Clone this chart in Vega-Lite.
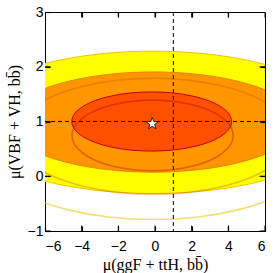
{
  "$schema": "https://vega.github.io/schema/vega-lite/v6.json",
  "width": 220,
  "height": 219,
  "autosize": {"type": "none"},
  "padding": {"left": 45, "top": 12, "right": 8, "bottom": 42},
  "config": {
    "view": {"stroke": "black", "strokeWidth": 1},
    "axis": {"labelFont": "Liberation Sans", "labelFontSize": 14, "labelColor": "black", "ticks": true, "tickColor": "black", "tickWidth": 1.2, "titleFont": "Liberation Serif", "titleFontSize": 16, "titleFontWeight": "normal", "titleColor": "black", "grid": false, "domain": false, "zindex": 1}
  },
  "datasets": {
    "ys": [
      {"i":0,"x":9.35,"y":0.59},{"i":1,"x":9.028,"y":0.947},{"i":2,"x":8.084,"y":1.28},{"i":3,"x":6.582,"y":1.566},{"i":4,"x":4.625,"y":1.785},{"i":5,"x":2.346,"y":1.923},{"i":6,"x":-0.1,"y":1.97},{"i":7,"x":-2.546,"y":1.923},{"i":8,"x":-4.825,"y":1.785},{"i":9,"x":-6.782,"y":1.566},{"i":10,"x":-8.284,"y":1.28},{"i":11,"x":-9.228,"y":0.947},{"i":12,"x":-9.55,"y":0.59},{"i":13,"x":-9.228,"y":0.233},{"i":14,"x":-8.284,"y":-0.1},{"i":15,"x":-6.782,"y":-0.386},{"i":16,"x":-4.825,"y":-0.605},{"i":17,"x":-2.546,"y":-0.743},{"i":18,"x":-0.1,"y":-0.79},{"i":19,"x":2.346,"y":-0.743},{"i":20,"x":4.625,"y":-0.605},{"i":21,"x":6.582,"y":-0.386},{"i":22,"x":8.084,"y":-0.1},{"i":23,"x":9.028,"y":0.233}
    ],
    "ym": [
      {"i":0,"x":10.4,"y":0.985},{"i":1,"x":10.042,"y":1.321},{"i":2,"x":8.993,"y":1.635},{"i":3,"x":7.325,"y":1.904},{"i":4,"x":5.15,"y":2.111},{"i":5,"x":2.617,"y":2.241},{"i":6,"x":-0.1,"y":2.285},{"i":7,"x":-2.817,"y":2.241},{"i":8,"x":-5.35,"y":2.111},{"i":9,"x":-7.525,"y":1.904},{"i":10,"x":-9.193,"y":1.635},{"i":11,"x":-10.242,"y":1.321},{"i":12,"x":-10.6,"y":0.985},{"i":13,"x":-10.242,"y":0.649},{"i":14,"x":-9.193,"y":0.335},{"i":15,"x":-7.525,"y":0.066},{"i":16,"x":-5.35,"y":-0.141},{"i":17,"x":-2.817,"y":-0.271},{"i":18,"x":-0.1,"y":-0.315},{"i":19,"x":2.617,"y":-0.271},{"i":20,"x":5.15,"y":-0.141},{"i":21,"x":7.325,"y":0.066},{"i":22,"x":8.993,"y":0.335},{"i":23,"x":10.042,"y":0.649}
    ],
    "om": [
      {"i":0,"x":7.85,"y":0.99},{"i":1,"x":7.579,"y":1.227},{"i":2,"x":6.785,"y":1.448},{"i":3,"x":5.521,"y":1.637},{"i":4,"x":3.875,"y":1.782},{"i":5,"x":1.957,"y":1.874},{"i":6,"x":-0.1,"y":1.905},{"i":7,"x":-2.157,"y":1.874},{"i":8,"x":-4.075,"y":1.782},{"i":9,"x":-5.721,"y":1.637},{"i":10,"x":-6.985,"y":1.448},{"i":11,"x":-7.779,"y":1.227},{"i":12,"x":-8.05,"y":0.99},{"i":13,"x":-7.779,"y":0.753},{"i":14,"x":-6.985,"y":0.533},{"i":15,"x":-5.721,"y":0.343},{"i":16,"x":-4.075,"y":0.198},{"i":17,"x":-2.157,"y":0.106},{"i":18,"x":-0.1,"y":0.075},{"i":19,"x":1.957,"y":0.106},{"i":20,"x":3.875,"y":0.198},{"i":21,"x":5.521,"y":0.343},{"i":22,"x":6.785,"y":0.533},{"i":23,"x":7.579,"y":0.753}
    ],
    "os": [
      {"i":0,"x":7.45,"y":0.73},{"i":1,"x":7.193,"y":1.004},{"i":2,"x":6.438,"y":1.26},{"i":3,"x":5.239,"y":1.48},{"i":4,"x":3.675,"y":1.648},{"i":5,"x":1.854,"y":1.754},{"i":6,"x":-0.1,"y":1.79},{"i":7,"x":-2.054,"y":1.754},{"i":8,"x":-3.875,"y":1.648},{"i":9,"x":-5.439,"y":1.48},{"i":10,"x":-6.638,"y":1.26},{"i":11,"x":-7.393,"y":1.004},{"i":12,"x":-7.65,"y":0.73},{"i":13,"x":-7.393,"y":0.456},{"i":14,"x":-6.638,"y":0.2},{"i":15,"x":-5.439,"y":-0.02},{"i":16,"x":-3.875,"y":-0.188},{"i":17,"x":-2.054,"y":-0.294},{"i":18,"x":-0.1,"y":-0.33},{"i":19,"x":1.854,"y":-0.294},{"i":20,"x":3.675,"y":-0.188},{"i":21,"x":5.239,"y":-0.02},{"i":22,"x":6.438,"y":0.2},{"i":23,"x":7.193,"y":0.456}
    ],
    "rm": [
      {"i":0,"x":4.18,"y":1.0},{"i":1,"x":4.031,"y":1.14},{"i":2,"x":3.596,"y":1.27},{"i":3,"x":2.903,"y":1.382},{"i":4,"x":2.0,"y":1.468},{"i":5,"x":0.948,"y":1.522},{"i":6,"x":-0.18,"y":1.54},{"i":7,"x":-1.308,"y":1.522},{"i":8,"x":-2.36,"y":1.468},{"i":9,"x":-3.263,"y":1.382},{"i":10,"x":-3.956,"y":1.27},{"i":11,"x":-4.391,"y":1.14},{"i":12,"x":-4.54,"y":1.0},{"i":13,"x":-4.391,"y":0.86},{"i":14,"x":-3.956,"y":0.73},{"i":15,"x":-3.263,"y":0.618},{"i":16,"x":-2.36,"y":0.532},{"i":17,"x":-1.308,"y":0.478},{"i":18,"x":-0.18,"y":0.46},{"i":19,"x":0.948,"y":0.478},{"i":20,"x":2.0,"y":0.532},{"i":21,"x":2.903,"y":0.618},{"i":22,"x":3.596,"y":0.73},{"i":23,"x":4.031,"y":0.86}
    ],
    "rs": [
      {"i":0,"x":4.27,"y":0.745},{"i":1,"x":4.12,"y":0.912},{"i":2,"x":3.68,"y":1.068},{"i":3,"x":2.981,"y":1.201},{"i":4,"x":2.07,"y":1.304},{"i":5,"x":1.009,"y":1.368},{"i":6,"x":-0.13,"y":1.39},{"i":7,"x":-1.269,"y":1.368},{"i":8,"x":-2.33,"y":1.304},{"i":9,"x":-3.241,"y":1.201},{"i":10,"x":-3.94,"y":1.068},{"i":11,"x":-4.38,"y":0.912},{"i":12,"x":-4.53,"y":0.745},{"i":13,"x":-4.38,"y":0.578},{"i":14,"x":-3.94,"y":0.423},{"i":15,"x":-3.241,"y":0.289},{"i":16,"x":-2.33,"y":0.186},{"i":17,"x":-1.269,"y":0.122},{"i":18,"x":-0.13,"y":0.1},{"i":19,"x":1.009,"y":0.122},{"i":20,"x":2.07,"y":0.186},{"i":21,"x":2.981,"y":0.289},{"i":22,"x":3.68,"y":0.423},{"i":23,"x":4.12,"y":0.578}
    ],
    "vline": [{"x": 1}],
    "hline": [{"y": 1}],
    "best": [{"x": -0.15, "y": 0.96}],
    "xticks": [{"t": -6}, {"t": -4}, {"t": -2}, {"t": 0}, {"t": 2}, {"t": 4}, {"t": 6}],
    "yticks": [{"t": -1}, {"t": 0}, {"t": 1}, {"t": 2}, {"t": 3}]
  },
  "resolve": {"axis": {"x": "independent", "y": "independent"}},
  "layer": [
    {
      "data": {"name": "ys"},
      "mark": {"type": "line", "interpolate": "cardinal-closed", "stroke": "#EDC200", "strokeWidth": 1.6, "strokeOpacity": 0.55, "clip": true},
      "encoding": {
        "x": {"field": "x", "type": "quantitative", "scale": {"domain": [-6, 6], "nice": false, "zero": false}, "axis": null},
        "y": {"field": "y", "type": "quantitative", "scale": {"domain": [-1, 3], "nice": false, "zero": false}, "axis": null},
        "order": {"field": "i", "type": "quantitative"}
      }
    },
    {
      "data": {"name": "ym"},
      "mark": {"type": "line", "interpolate": "cardinal-closed", "fill": "#FFFF00", "stroke": "#F0C400", "strokeWidth": 1, "clip": true},
      "encoding": {
        "x": {"field": "x", "type": "quantitative", "axis": null},
        "y": {"field": "y", "type": "quantitative", "axis": null},
        "order": {"field": "i", "type": "quantitative"}
      }
    },
    {
      "data": {"name": "om"},
      "mark": {"type": "line", "interpolate": "cardinal-closed", "fill": "#FF9600", "stroke": "#E88000", "strokeWidth": 1, "clip": true},
      "encoding": {
        "x": {"field": "x", "type": "quantitative", "axis": null},
        "y": {"field": "y", "type": "quantitative", "axis": null},
        "order": {"field": "i", "type": "quantitative"}
      }
    },
    {
      "data": {"name": "os"},
      "mark": {"type": "line", "interpolate": "cardinal-closed", "stroke": "#C85000", "strokeWidth": 1.6, "strokeOpacity": 0.35, "clip": true},
      "encoding": {
        "x": {"field": "x", "type": "quantitative", "axis": null},
        "y": {"field": "y", "type": "quantitative", "axis": null},
        "order": {"field": "i", "type": "quantitative"}
      }
    },
    {
      "data": {"name": "rm"},
      "mark": {"type": "line", "interpolate": "cardinal-closed", "fill": "#FF5000", "stroke": "#C00000", "strokeWidth": 1, "clip": true},
      "encoding": {
        "x": {"field": "x", "type": "quantitative", "axis": null},
        "y": {"field": "y", "type": "quantitative", "axis": null},
        "order": {"field": "i", "type": "quantitative"}
      }
    },
    {
      "data": {"name": "rs"},
      "mark": {"type": "line", "interpolate": "cardinal-closed", "stroke": "#A00000", "strokeWidth": 1.6, "strokeOpacity": 0.35, "clip": true},
      "encoding": {
        "x": {"field": "x", "type": "quantitative", "axis": null},
        "y": {"field": "y", "type": "quantitative", "axis": null},
        "order": {"field": "i", "type": "quantitative"}
      }
    },
    {
      "data": {"name": "vline"},
      "mark": {"type": "rule", "color": "black", "strokeWidth": 1, "strokeDash": [4, 3]},
      "encoding": {"x": {"field": "x", "type": "quantitative", "axis": null}}
    },
    {
      "data": {"name": "hline"},
      "mark": {"type": "rule", "color": "black", "strokeWidth": 1, "strokeDash": [4, 3]},
      "encoding": {"y": {"field": "y", "type": "quantitative", "axis": null}}
    },
    {
      "data": {"name": "best"},
      "mark": {"type": "point", "shape": "M0,-1L0.235,-0.324L0.951,-0.309L0.38,0.124L0.588,0.809L0,0.4L-0.588,0.809L-0.38,0.124L-0.951,-0.309L-0.235,-0.324Z", "size": 160, "filled": true, "fill": "white", "stroke": "black", "strokeWidth": 0.8, "opacity": 1},
      "encoding": {
        "x": {"field": "x", "type": "quantitative", "axis": {"orient": "bottom", "values": [-6, -4, -2, 0, 2, 4, 6], "tickSize": -5, "labelPadding": 13, "title": "μ(ggF + ttH, bb̄)", "titlePadding": 3, "zindex": 1}},
        "y": {"field": "y", "type": "quantitative", "axis": {"orient": "left", "values": [-1, 0, 1, 2, 3], "tickSize": -5, "labelPadding": 7, "title": "μ(VBF + VH, bb̄)", "titlePadding": 5, "zindex": 1}}
      }
    },
    {
      "data": {"name": "best"},
      "mark": {"type": "point", "opacity": 0},
      "encoding": {
        "x": {"field": "x", "type": "quantitative", "axis": {"orient": "top", "values": [-4, -2, 0, 2, 4], "tickSize": -5, "labels": false, "title": null, "zindex": 1}},
        "y": {"field": "y", "type": "quantitative", "axis": {"orient": "right", "values": [0, 1, 2], "tickSize": -5, "labels": false, "title": null, "zindex": 1}}
      }
    },
    {
      "data": {"name": "xticks"},
      "mark": {"type": "tick", "orient": "vertical", "thickness": 1, "color": "black", "opacity": 1, "clip": true},
      "encoding": {
        "x": {"field": "t", "type": "quantitative", "axis": null},
        "y": {"datum": -1, "type": "quantitative", "axis": null},
        "size": {"value": 11}
      }
    },
    {
      "data": {"name": "xticks"},
      "mark": {"type": "tick", "orient": "vertical", "thickness": 1, "color": "black", "opacity": 1, "clip": true},
      "encoding": {
        "x": {"field": "t", "type": "quantitative", "axis": null},
        "y": {"datum": 3, "type": "quantitative", "axis": null},
        "size": {"value": 11}
      }
    },
    {
      "data": {"name": "yticks"},
      "mark": {"type": "tick", "orient": "horizontal", "thickness": 1, "color": "black", "opacity": 1, "clip": true},
      "encoding": {
        "y": {"field": "t", "type": "quantitative", "axis": null},
        "x": {"datum": -6, "type": "quantitative", "axis": null},
        "size": {"value": 11}
      }
    },
    {
      "data": {"name": "yticks"},
      "mark": {"type": "tick", "orient": "horizontal", "thickness": 1, "color": "black", "opacity": 1, "clip": true},
      "encoding": {
        "y": {"field": "t", "type": "quantitative", "axis": null},
        "x": {"datum": 6, "type": "quantitative", "axis": null},
        "size": {"value": 11}
      }
    }
  ]
}
